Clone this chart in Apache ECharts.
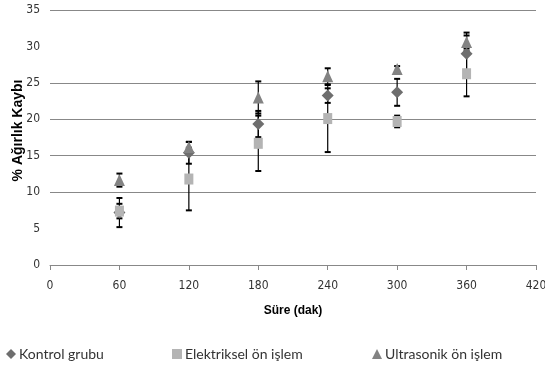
<!DOCTYPE html>
<html><head><meta charset="utf-8">
<script src="https://cdn.jsdelivr.net/npm/echarts@6/dist/echarts.min.js"></script>
<style>html,body{margin:0;padding:0;background:#fff}#c{width:545px;height:369px}</style>
</head><body><div id="c"></div>
<script>
const times = [60, 120, 180, 240, 300, 360];
const kontrol = [7.2, 15.4, 19.35, 23.25, 23.7, 29.0];
const kontrolErr = [2.0, 1.5, 1.8, 1.0, 1.85, 2.9];
const elektriksel = [7.4, 11.8, 16.7, 20.1, 19.7, 26.25];
const elektrikselErr = [1.0, 4.3, 3.8, 4.6, 0.8, 3.1];
const ultrasonik = [11.65, 16.2, 23.0, 25.9, 26.9, 30.6];
const ultrasonikErr = [0.9, 0.7, 2.2, 1.1, 0.4, 0.9];
const seriesNames = ['Kontrol grubu', 'Elektriksel ön işlem', 'Ultrasonik ön işlem'];

const font = "'Liberation Sans Narrow','DejaVu Sans Condensed','Liberation Sans',sans-serif";
const legFont = "Lato,'Open Sans','Liberation Sans',sans-serif";

function errData(vals, errs) {
  return times.map((t, i) => [t, vals[i] - errs[i], vals[i] + errs[i]]);
}
function errSeries(vals, errs) {
  return {
    type: 'custom', z: 1, silent: true,
    data: errData(vals, errs),
    renderItem: function (params, api) {
      const lo = api.coord([api.value(0), api.value(1)]);
      const hi = api.coord([api.value(0), api.value(2)]);
      const w = 3;
      return { type: 'group', children: [
        { type: 'line', shape: { x1: lo[0], y1: lo[1], x2: hi[0], y2: hi[1] }, style: { stroke: '#000', lineWidth: 1.2 } },
        { type: 'line', shape: { x1: lo[0] - w, y1: lo[1], x2: lo[0] + w, y2: lo[1] }, style: { stroke: '#000', lineWidth: 2 } },
        { type: 'line', shape: { x1: hi[0] - w, y1: hi[1], x2: hi[0] + w, y2: hi[1] }, style: { stroke: '#000', lineWidth: 2 } }
      ]};
    }
  };
}
function pts(vals) { return times.map((t, i) => [t, vals[i]]); }
function leg(name, icon, left) {
  return {
    left: left, top: 342, itemWidth: 10, itemHeight: 10, itemGap: 0,
    textStyle: { fontFamily: legFont, fontSize: 14, color: '#333', padding: [0, 0, 0, -2] },
    data: [{ name: name, icon: icon }]
  };
}

const chart = echarts.init(document.getElementById('c'));
chart.setOption({
  animation: false,
  grid: { left: 50, right: 9, top: 10, bottom: 104, outerBoundsMode: 'none', containLabel: false },
  xAxis: {
    type: 'value', min: 0, max: 420, interval: 60,
    name: 'Süre (dak)', nameLocation: 'middle', nameGap: 40, nameMoveOverlap: false,
    nameTextStyle: { fontFamily: "'Liberation Sans',Arial,sans-serif", fontSize: 12, fontWeight: 'bold', color: '#000' },
    axisLine: { show: true, lineStyle: { color: '#888', width: 1 } },
    axisTick: { show: true, length: 5, lineStyle: { color: '#888' } },
    axisLabel: { fontFamily: font, fontSize: 12, color: '#333', margin: 15 },
    splitLine: { show: false }
  },
  yAxis: {
    type: 'value', min: 0, max: 35, interval: 5,
    name: '% Ağırlık Kaybı', nameLocation: 'middle', nameGap: 25, nameMoveOverlap: false,
    nameTextStyle: { fontFamily: "'Liberation Sans',Arial,sans-serif", fontSize: 14, fontWeight: 'bold', color: '#000', padding: [0, 0, 0, 14] },
    axisLine: { show: false },
    axisTick: { show: false },
    axisLabel: { fontFamily: font, fontSize: 12, color: '#333', margin: 10 },
    splitLine: { show: true, lineStyle: { color: ['#888', 'transparent', '#888', '#888', '#888', '#888', 'transparent', '#888'], width: 1 } }
  },
  legend: [
    leg(seriesNames[0], 'diamond', 1),
    leg(seriesNames[1], 'rect', 167),
    leg(seriesNames[2], 'triangle', 367)
  ],
  series: [
    errSeries(kontrol, kontrolErr),
    errSeries(elektriksel, elektrikselErr),
    errSeries(ultrasonik, ultrasonikErr),
    { name: seriesNames[0], type: 'scatter', z: 3, symbol: 'diamond', symbolSize: 12, itemStyle: { color: '#6e6e6e', opacity: 1 }, data: pts(kontrol) },
    { name: seriesNames[1], type: 'scatter', z: 4, symbol: 'rect', symbolSize: [9, 11], itemStyle: { color: '#b4b4b4', opacity: 1 }, data: pts(elektriksel) },
    { name: seriesNames[2], type: 'scatter', z: 5, symbol: 'triangle', symbolSize: [11, 12], itemStyle: { color: '#838383', opacity: 1 }, data: pts(ultrasonik) }
  ]
});
</script></body></html>
